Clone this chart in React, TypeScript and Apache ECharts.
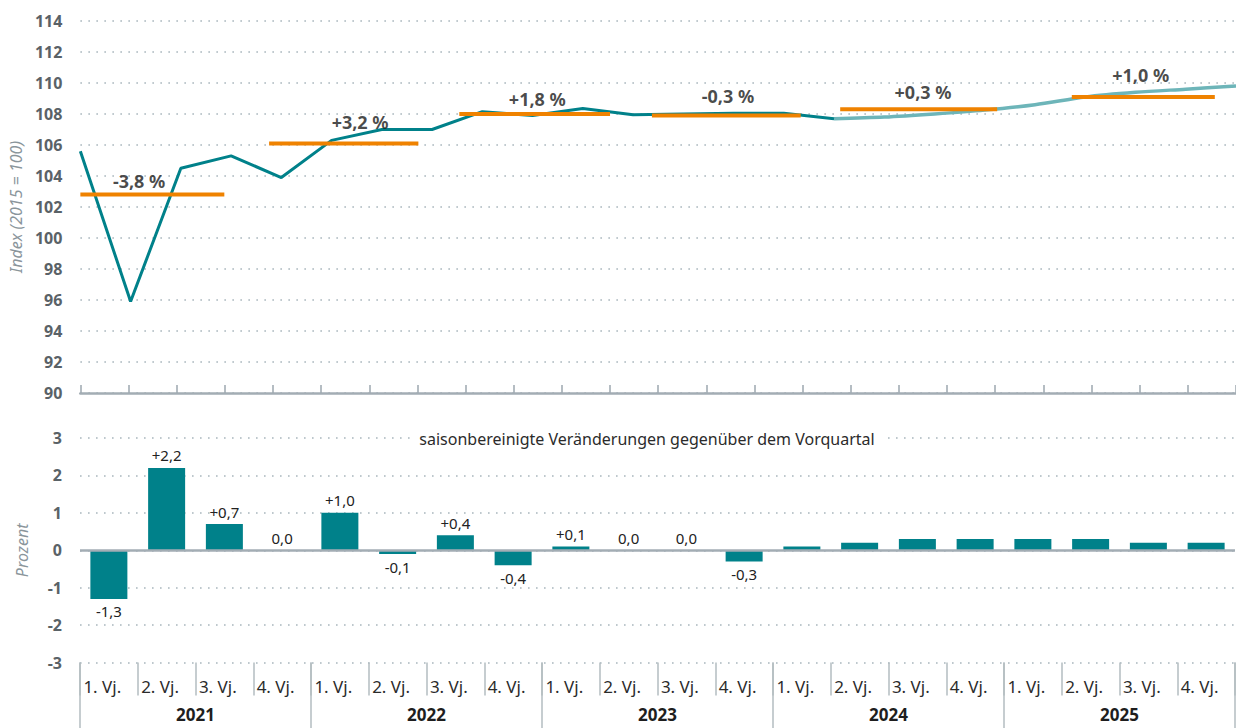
import React, { useEffect, useRef } from "react";
import * as echarts from "echarts";

// ---- data ----
const topQuarters = [
  "2020 Q1", "2020 Q2", "2020 Q3", "2020 Q4",
  "2021 Q1", "2021 Q2", "2021 Q3", "2021 Q4",
  "2022 Q1", "2022 Q2", "2022 Q3", "2022 Q4",
  "2023 Q1", "2023 Q2", "2023 Q3", "2023 Q4",
  "2024 Q1", "2024 Q2", "2024 Q3", "2024 Q4",
  "2025 Q1", "2025 Q2", "2025 Q3", "2025 Q4",
];
const indexActual = [
  105.6, 95.9, 104.5, 105.3,
  103.9, 106.3, 107.0, 107.0,
  108.15, 107.9, 108.35, 107.95,
  108.0, 108.05, 108.05, 107.7,
];
const indexForecast = [107.7, 107.8, 108.0, 108.25, 108.6, 109.1, 109.4, 109.6, 109.8];
const forecastStart = 15;

const yearAvg = [102.8, 106.1, 108.0, 107.9, 108.3, 109.1];
const yearAvgStart = [0, 3.92, 7.87, 11.87, 15.78, 20.59];
const yearAvgEnd = [2.99, 7.02, 11.0, 14.96, 19.04, 23.56];
const yearAvgLabels = ["-3,8 %", "+3,2 %", "+1,8 %", "-0,3 %", "+0,3 %", "+1,0 %"];
const yearAvgLabelX = [1.22, 5.81, 9.49, 13.45, 17.5, 22.02];
const yearAvgLabelY = [103.65, 107.5, 108.97, 109.16, 109.42, 110.52];

const quarterLabels = [
  "1. Vj.", "2. Vj.", "3. Vj.", "4. Vj.",
  "1. Vj.", "2. Vj.", "3. Vj.", "4. Vj.",
  "1. Vj.", "2. Vj.", "3. Vj.", "4. Vj.",
  "1. Vj.", "2. Vj.", "3. Vj.", "4. Vj.",
  "1. Vj.", "2. Vj.", "3. Vj.", "4. Vj.",
];
const years = ["2021", "2022", "2023", "2024", "2025"];
const qoqChange = [
  -1.3, 2.2, 0.7, 0.0,
  1.0, -0.1, 0.4, -0.4,
  0.1, 0.0, 0.0, -0.3,
  0.1, 0.2, 0.3, 0.3,
  0.3, 0.3, 0.2, 0.2,
];
const labelledBars = 12;

const topTicks = { min: 90, max: 114, interval: 2 };
const bottomTicks = { min: -3, max: 3, interval: 1 };

// ---- styles ----
const TEAL = "#00818a";
const TEAL_LIGHT = "#6db5b9";
const ORANGE = "#ef8200";
const AXIS_GREY = "#a3adb4";
const FONT = "Noto Sans";

const fmt = (v: number) => {
  const s = Math.abs(v).toFixed(1).replace(".", ",");
  if (v > 0) return "+" + s;
  if (v < 0) return "-" + s;
  return s;
};

export default function App() {
  const ref = useRef<HTMLDivElement>(null);
  useEffect(() => {
    if (!ref.current) return;
    const chart = echarts.init(ref.current, null, { renderer: "svg" });

    const dotted = {
      show: true,
      lineStyle: { type: [1.6, 6.4], color: "#a9b6bd", width: 1.6 },
    };
    const yLabel = {
      fontFamily: FONT,
      fontSize: 16,
      fontWeight: "bold",
      color: "#5a6267",
      margin: 18,
    };
    const yName = {
      fontFamily: FONT,
      fontSize: 16,
      fontStyle: "italic",
      color: "#8a959b",
    };

    const actualData = topQuarters.map((_, i) => (i < indexActual.length ? indexActual[i] : null));
    const forecastData = topQuarters.map((_, i) =>
      i >= forecastStart && i - forecastStart < indexForecast.length ? indexForecast[i - forecastStart] : null
    );

    const orangeSeries = yearAvg.map((v, i) => ({
      type: "line",
      xAxisIndex: 1,
      yAxisIndex: 0,
      data: [
        [yearAvgStart[i], v],
        [yearAvgEnd[i], v],
      ],
      symbol: "none",
      lineStyle: { color: ORANGE, width: 4 },
      silent: true,
      z: 5,
    }));

    const option: any = {
      animation: false,
      textStyle: { fontFamily: FONT },
      grid: [
        { left: 80, top: 21, width: 1156, height: 372 },
        { left: 80, top: 438, width: 1155, height: 224.6 },
      ],
      xAxis: [
        {
          gridIndex: 0,
          type: "category",
          data: topQuarters,
          boundaryGap: false,
          show: false,
        },
        {
          gridIndex: 0,
          type: "value",
          min: 0,
          max: 24,
          interval: 1,
          position: "bottom",
          axisLine: { show: true, onZero: false, lineStyle: { color: AXIS_GREY, width: 2.6 } },
          axisTick: { show: true, inside: true, length: 8, lineStyle: { color: AXIS_GREY, width: 1.6 } },
          axisLabel: { show: false },
          splitLine: { show: false },
        },
        {
          gridIndex: 1,
          type: "category",
          data: quarterLabels,
          position: "bottom",
          axisLine: { show: false, onZero: false },
          axisTick: { show: true, interval: 0, length: 33, lineStyle: { color: "#b3bcc1", width: 1.5 } },
          axisLabel: {
            interval: 0,
            margin: 15,
            formatter: (v: string) => `{a|${v}}`,
            rich: { a: { width: 51, align: "left", fontSize: 17, color: "#2b2b2b", fontFamily: FONT } },
          },
          splitLine: { show: false },
        },
        {
          gridIndex: 1,
          type: "category",
          data: years,
          position: "bottom",
          axisLine: { show: false, onZero: false },
          axisTick: { show: true, interval: 0, length: 67, lineStyle: { color: "#b3bcc1", width: 1.5 } },
          axisLabel: {
            interval: 0,
            margin: 43,
            fontSize: 17,
            lineHeight: 18,
            fontWeight: "bold",
            color: "#1e1e1e",
            fontFamily: FONT,
          },
          splitLine: { show: false },
        },
      ],
      yAxis: [
        {
          gridIndex: 0,
          type: "value",
          ...topTicks,
          axisLine: { show: false },
          axisTick: { show: false },
          axisLabel: yLabel,
          splitLine: dotted,
          name: "Index (2015 = 100)",
          nameLocation: "middle",
          nameGap: 50,
          nameTextStyle: yName,
        },
        {
          gridIndex: 1,
          type: "value",
          ...bottomTicks,
          axisLine: { show: false },
          axisTick: { show: false },
          axisLabel: yLabel,
          splitLine: dotted,
          name: "Prozent",
          nameLocation: "middle",
          nameGap: 50,
          nameTextStyle: yName,
        },
      ],
      series: [
        {
          type: "line",
          xAxisIndex: 0,
          yAxisIndex: 0,
          data: forecastData,
          symbol: "none",
          smooth: 0.3,
          lineStyle: { color: TEAL_LIGHT, width: 3.5 },
          z: 3,
        },
        {
          type: "line",
          xAxisIndex: 0,
          yAxisIndex: 0,
          data: actualData,
          symbol: "none",
          lineStyle: { color: TEAL, width: 3 },
          z: 4,
        },
        ...orangeSeries,
        {
          type: "scatter",
          xAxisIndex: 1,
          yAxisIndex: 0,
          symbolSize: 0,
          silent: true,
          data: yearAvgLabels.map((t, i) => [yearAvgLabelX[i], yearAvgLabelY[i], t]),
          label: {
            show: true,
            position: "inside",
            formatter: (p: any) => p.value[2],
            fontFamily: FONT,
            fontSize: 18,
            fontWeight: "bold",
            color: "#1a1a1a",
          },
          z: 6,
        },
        {
          type: "bar",
          xAxisIndex: 2,
          yAxisIndex: 1,
          barWidth: 37,
          itemStyle: { color: TEAL },
          data: qoqChange.map((v, i) => ({
            value: v,
            label: {
              show: i < labelledBars,
              position: v < 0 ? "bottom" : "top",
              distance: 5,
              formatter: fmt(v),
              fontFamily: FONT,
              fontSize: 15,
              color: "#222",
            },
          })),
          markLine: {
            silent: true,
            symbol: ["none", "none"],
            label: { show: false },
            lineStyle: { color: AXIS_GREY, type: "solid", width: 2.6 },
            data: [{ yAxis: 0 }],
          },
        },
      ],
      graphic: [
        {
          type: "text",
          x: 647,
          y: 439,
          z: 100,
          style: {
            text: "saisonbereinigte Veränderungen gegenüber dem Vorquartal",
            fontFamily: FONT,
            fontSize: 16,
            fill: "#2b2b2b",
            align: "center",
            verticalAlign: "middle",
            backgroundColor: "#ffffff",
            padding: [3, 9],
          },
        },
      ],
    };
    chart.setOption(option);
    return () => chart.dispose();
  }, []);

  return (
    <div
      ref={ref}
      style={{ position: "fixed", left: 0, top: 0, width: 1236, height: 728, background: "#fff" }}
    />
  );
}
